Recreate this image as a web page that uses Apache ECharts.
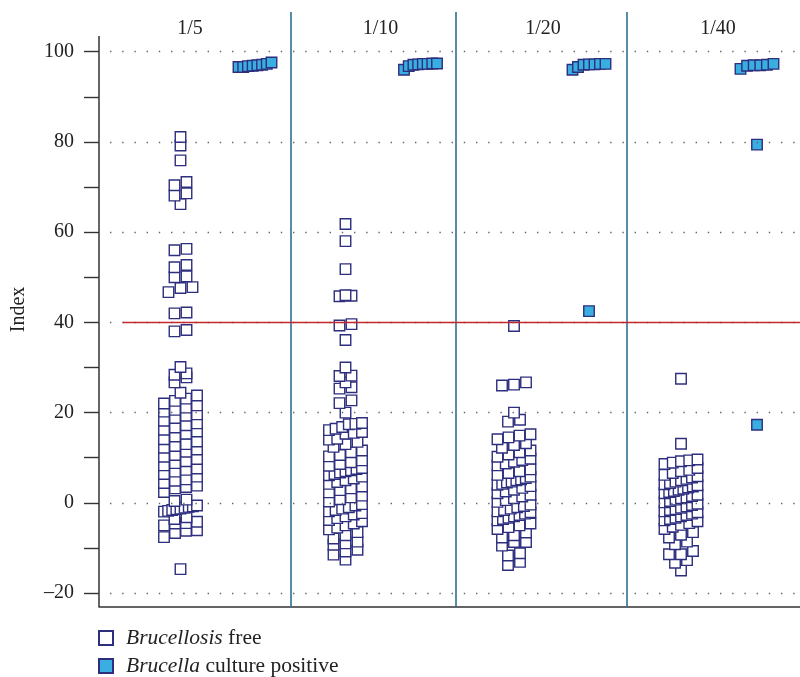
<!DOCTYPE html>
<html>
<head>
<meta charset="utf-8">
<style>
html, body { margin: 0; padding: 0; background: #fff; }
#chart { width: 800px; height: 677px; }
</style>
<script src="https://cdn.jsdelivr.net/npm/echarts@6/dist/echarts.min.js"></script>
</head>
<body>
<div id="chart"></div>
<script>
// serum dilutions (one panel each)
var dilutions = ['1/5', '1/10', '1/20', '1/40'];

// Brucellosis free animals, index per dilution
var free5 = [81.1, 79.2, 75.9, 71.1, 70.4, 68.6, 68.1, 66.2,
  56.3, 56.0, 52.7, 52.2, 50.2, 50.0, 47.8, 47.6, 46.7, 42.2, 42.0, 38.3, 38.0,
  30.1, 28.7, 28.4, 27.8, 26.7, 24.4,
  23.8, 23.1, 22.6, 22.0, 21.6, 21.1, 20.6, 20.2, 19.6, 19.3, 18.8, 18.2,
  17.6, 17.2, 16.7, 16.2, 15.8, 15.3, 14.7, 14.1, 13.6, 13.0, 12.6, 12.2,
  11.8, 11.3, 10.6, 10.2, 9.7, 9.2, 8.8, 8.3, 7.6, 7.3, 6.9, 6.4,
  5.8, 5.2, 4.9, 4.4, 3.8, 3.5, 3.2, 2.4, 0.7, 0.4,
  -0.6, -0.8, -0.9, -1.1, -1.3, -1.4, -1.6, -1.8, -1.95, -3.2, -3.6,
  -4.2, -4.5, -4.6, -5.0, -6.1, -6.2, -6.7, -7.6, -14.7];
var free10 = [61.8, 58.0, 51.8, 45.8, 45.9, 46.0, 39.3, 39.6, 36.1,
  30.0, 28.1, 28.2, 26.7, 25.3, 25.6, 22.1, 22.7, 20.0,
  16.1, 16.4, 16.8, 17.4, 17.5, 17.7, 14.0, 14.2, 15.3, 15.5, 15.7,
  12.4, 13.0, 13.5, 10.3, 10.6, 11.2, 11.6, 8.2, 8.6, 9.0, 9.4,
  6.1, 6.4, 6.7, 7.0, 7.2, 7.5, 7.7, 4.2, 4.6, 5.0, 5.4, 5.8,
  2.3, 2.8, 3.2, 3.6, 0.3, 0.8, 1.2, 1.6,
  -1.9, -1.6, -1.3, -1.0, -0.6, -0.3, -3.8, -3.4, -3.0, -2.6, -2.3,
  -5.9, -5.5, -5.0, -4.6, -4.1, -7.9, -7.2, -6.5, -9.3, -9.0, -8.6,
  -10.4, -10.8, -11.5, -12.6];
var free20 = [39.2, 26.0, 26.2, 26.7, 20.0, 18.0, 18.4,
  14.1, 14.5, 14.9, 15.2, 12.2, 12.8, 13.2, 10.2, 10.7, 11.2, 11.6,
  8.3, 8.7, 9.1, 9.5, 9.8, 6.2, 6.6, 7.0, 7.4,
  4.0, 4.2, 4.5, 4.7, 5.0, 5.2, 5.5, 5.8, 2.1, 2.5, 2.9, 3.3, 3.7,
  0.2, 0.6, 1.0, 1.4, 1.8, -1.9, -1.6, -1.3, -1.0, -0.7, -0.4,
  -3.9, -3.6, -3.3, -3.0, -2.7, -2.4, -2.1, -5.8, -5.4, -5.0, -4.6,
  -7.7, -7.2, -6.6, -9.5, -8.7, -8.7, -11.7, -11.2, -13.8, -13.1];
var free40 = [27.5, 13.1, 8.6, 8.9, 9.2, 9.4, 9.6, 6.2, 6.6, 7.0, 7.3, 7.7,
  4.1, 4.4, 4.7, 5.0, 5.3, 5.6, 5.9, 2.1, 2.4, 2.6, 2.9, 3.1, 3.4, 3.6, 3.9,
  0.1, 0.4, 0.7, 1.0, 1.2, 1.5, 1.8, -1.9, -1.6, -1.4, -1.1, -0.8, -0.5, -0.2,
  -3.9, -3.6, -3.3, -3.0, -2.7, -2.4, -2.1, -5.8, -5.3, -4.9, -4.5, -4.1,
  -7.7, -7.1, -6.5, -9.2, -8.6, -11.4, -11.4, -10.7, -13.3, -12.7, -15.0];

// Brucella culture positive animals, index per dilution
var pos5 = [96.6, 96.6, 96.8, 96.9, 97.0, 97.1, 97.3, 97.6];
var pos10 = [96.0, 96.8, 97.1, 97.2, 97.3, 97.3, 97.4, 97.4];
var pos20 = [42.5, 96.0, 96.6, 97.1, 97.2, 97.2, 97.3, 97.3];
var pos40 = [17.3, 79.4, 96.2, 96.9, 97.0, 97.0, 97.1, 97.3];

// axis ticks / labels and the cut-off
var yTicks = [-20, -10, 0, 10, 20, 30, 40, 50, 60, 70, 80, 90, 100];
var yLabels = [-20, 0, 20, 40, 60, 80, 100];
var cutoff = 40;

// layout (x in pixels from the y axis)
var xMax = 701;
var freeX = [81.5, 246.5, 415, 582];
var posX = [156, 321.5, 490, 658];
var dividerX = [192, 357, 528];
var labelX = [91, 281.5, 444, 619];
var yMin = -23.1, yMax = 108.8, yAxisTop = 103.5, labelY = 105.0;

var serif = 'Liberation Serif';
var navy = '#2d2e7e';

// dot-plot layout: values in the same bin are spread side by side
function swarm(values, center) {
  var bins = {}, keys = [], pts = [];
  values.forEach(function (v) {
    var k = Math.floor(v / 2);
    if (!bins[k]) { bins[k] = []; keys.push(k); }
    bins[k].push(v);
  });
  keys.sort(function (a, b) { return a - b; });
  keys.forEach(function (k) {
    var vs = bins[k].slice().sort(function (a, b) { return a - b; });
    var n = vs.length;
    var step = n > 1 ? Math.min(12, 33 / (n - 1)) : 0;
    vs.forEach(function (v, i) { pts.push([center + (i - (n - 1) / 2) * step, v]); });
  });
  return pts;
}

var freeSets = [free5, free10, free20, free40];
var posSets = [pos5, pos10, pos20, pos40];
var freeData = [], posData = [];
freeSets.forEach(function (s, i) { freeData = freeData.concat(swarm(s, freeX[i])); });
posSets.forEach(function (s, i) { posData = posData.concat(swarm(s, posX[i])); });

var lines = [];
yLabels.forEach(function (v) {
  lines.push([{ coord: [11, v], lineStyle: { color: '#666', width: 1.4, type: [1.4, 10.8] } }, { coord: [xMax, v] }]);
});
dividerX.forEach(function (x) {
  lines.push([{ coord: [x, yMin], lineStyle: { color: '#2f6f90', width: 1.6, type: 'solid' } }, { coord: [x, yMax] }]);
});
lines.push([{ coord: [0, yMin], lineStyle: { color: '#333', width: 1.5, type: 'solid' } }, { coord: [0, yAxisTop] }]);
lines.push([{ coord: [24, cutoff], lineStyle: { color: '#c3282e', width: 1.3, type: 'solid' } }, { coord: [xMax, cutoff] }]);

var chart = echarts.init(document.getElementById('chart'));
chart.setOption({
  animation: false,
  backgroundColor: '#fff',
  textStyle: { fontFamily: serif },
  grid: { left: 99, right: 0, top: 12, bottom: 70 },
  legend: {
    orient: 'vertical',
    left: 98,
    top: 627,
    height: 80,
    padding: 0,
    itemWidth: 14,
    itemHeight: 14,
    itemGap: 6,
    data: ['Brucellosis free', 'Brucella culture positive'],
    formatter: function (name) {
      var i = name.indexOf(' ');
      return '{i|' + name.slice(0, i) + '}' + name.slice(i);
    },
    textStyle: {
      fontFamily: serif, fontSize: 21.5, color: '#222', lineHeight: 22, padding: [0, 0, 0, 8],
      rich: { i: { fontFamily: serif, fontSize: 21.5, fontStyle: 'italic', color: '#222', lineHeight: 22 } }
    }
  },
  xAxis: {
    type: 'value', min: 0, max: xMax,
    axisLine: { onZero: false, lineStyle: { color: '#333', width: 1.5 } },
    axisTick: { show: false }, axisLabel: { show: false }, splitLine: { show: false }
  },
  yAxis: {
    type: 'value', min: yMin, max: yMax,
    name: 'Index', nameLocation: 'middle', nameGap: 70,
    nameTextStyle: { fontFamily: serif, fontSize: 20, color: '#222' },
    axisLine: { show: false, onZero: false },
    axisTick: { show: true, customValues: yTicks, length: 15, lineStyle: { color: '#333', width: 1.4 } },
    axisLabel: {
      customValues: yLabels, margin: 25, fontFamily: serif, fontSize: 20, color: '#222',
      formatter: function (v) { return v < 0 ? '\u2013' + Math.abs(v) : String(v); }
    },
    splitLine: { show: false }
  },
  series: [
    {
      name: 'guides', type: 'line', data: [], silent: true, z: 1,
      markLine: { silent: true, symbol: ['none', 'none'], label: { show: false }, data: lines },
      markPoint: {
        silent: true, symbol: 'rect', symbolSize: 1, itemStyle: { color: 'rgba(0,0,0,0)' },
        label: { show: true, position: 'inside', formatter: '{b}', fontFamily: serif, fontSize: 20, color: '#222' },
        data: dilutions.map(function (d, i) { return { name: d, coord: [labelX[i], labelY] }; })
      }
    },
    {
      name: 'Brucellosis free', type: 'scatter', symbol: 'rect', symbolSize: 10.5, z: 3,
      itemStyle: { color: '#fff', borderColor: navy, borderWidth: 1.4, opacity: 1 },
      data: freeData
    },
    {
      name: 'Brucella culture positive', type: 'scatter', symbol: 'rect', symbolSize: 10.5, z: 3,
      itemStyle: { color: '#3aaee0', borderColor: navy, borderWidth: 1.4, opacity: 1 },
      data: posData
    }
  ]
});
</script>
</body>
</html>
